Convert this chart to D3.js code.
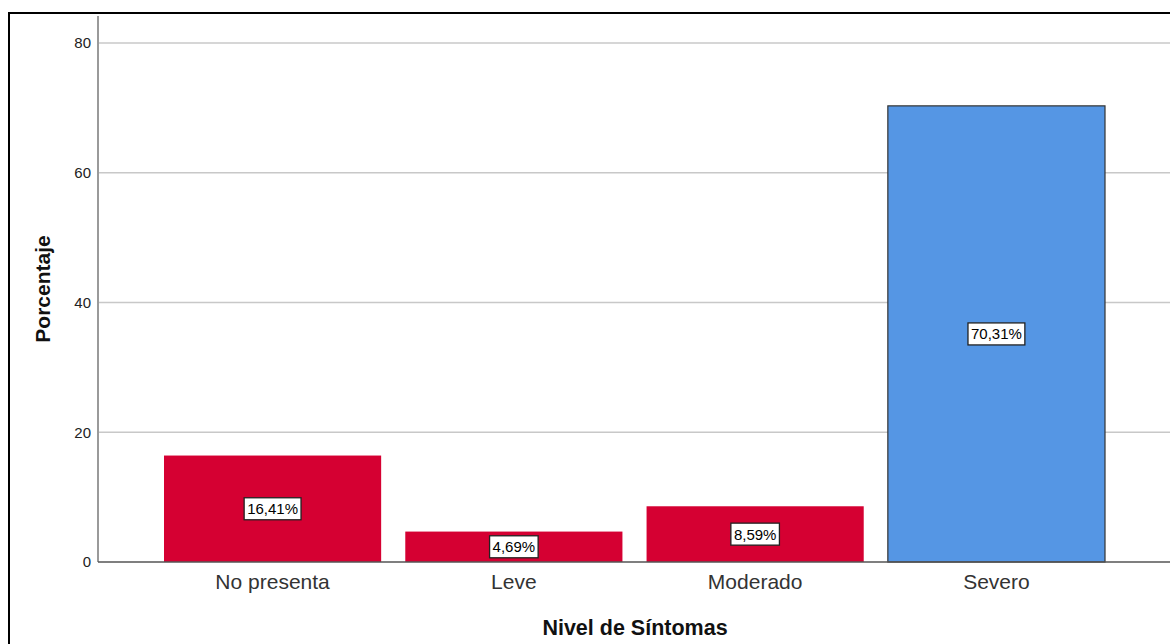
<!DOCTYPE html>
<html>
<head>
<meta charset="utf-8">
<script src="https://cdn.jsdelivr.net/npm/d3@7"></script>
<style>
  html, body { margin: 0; padding: 0; background: #fff; }
  svg { display: block; }
</style>
</head>
<body>
<svg id="chart" width="1170" height="644"></svg>
<script>
const categories = ["No presenta", "Leve", "Moderado", "Severo"];
const values = [16.41, 4.69, 8.59, 70.31];
const valueLabels = ["16,41%", "4,69%", "8,59%", "70,31%"];
const barColors = ["#d50032", "#d50032", "#d50032", "#5596e4"];
const yTicks = [0, 20, 40, 60, 80];
const xTitle = "Nivel de Síntomas";
const yTitle = "Porcentaje";

const svg = d3.select("#chart");
const font = "'Liberation Sans', Arial, sans-serif";

// outer frame
svg.append("rect")
  .attr("x", 9).attr("y", 13)
  .attr("width", 1200).attr("height", 700)
  .attr("fill", "none").attr("stroke", "#000").attr("stroke-width", 2);

const y = d3.scaleLinear().domain([0, 80]).range([562, 43]);
const x = d3.scaleBand().domain(categories).range([164, 1105])
  .paddingInner(0.1).paddingOuter(0);

const plotLeft = 98, plotRight = 1170;

// gridlines
svg.append("g").selectAll("line").data(yTicks.filter(d => d > 0)).join("line")
  .attr("x1", plotLeft).attr("x2", plotRight)
  .attr("y1", d => y(d)).attr("y2", d => y(d))
  .attr("stroke", "#c8c8c8").attr("stroke-width", 1.5);

// y axis
const yAxis = svg.append("g")
  .attr("transform", `translate(${plotLeft},0)`)
  .call(d3.axisLeft(y).tickValues(yTicks).tickSize(0).tickPadding(7));
yAxis.select(".domain").remove();
yAxis.selectAll("text")
  .attr("font-family", font).attr("font-size", 15).attr("fill", "#222");
svg.append("line")
  .attr("x1", plotLeft).attr("x2", plotLeft)
  .attr("y1", 16).attr("y2", 562)
  .attr("stroke", "#9a9a9a").attr("stroke-width", 2);

// bars
svg.append("g").selectAll("rect").data(categories).join("rect")
  .attr("x", d => x(d))
  .attr("y", (d, i) => y(values[i]))
  .attr("width", x.bandwidth())
  .attr("height", (d, i) => y(0) - y(values[i]))
  .attr("fill", (d, i) => barColors[i])
  .attr("stroke", (d, i) => i === 3 ? "#333" : "none")
  .attr("stroke-width", 1.2);

// x baseline
svg.append("line")
  .attr("x1", plotLeft).attr("x2", plotRight)
  .attr("y1", y(0)).attr("y2", y(0))
  .attr("stroke", "#555").attr("stroke-width", 1.5);

// x axis labels
const xAxis = svg.append("g")
  .attr("transform", `translate(0,${y(0)})`)
  .call(d3.axisBottom(x).tickSize(0).tickPadding(12));
xAxis.select(".domain").remove();
xAxis.selectAll("text")
  .attr("font-family", font).attr("font-size", 21).attr("fill", "#333");

// value labels
const lbl = svg.append("g").selectAll("g").data(categories).join("g")
  .attr("transform", (d, i) => `translate(${x(d) + x.bandwidth() / 2},${(y(values[i]) + y(0)) / 2})`);
lbl.append("text")
  .attr("text-anchor", "middle").attr("dy", "0.36em")
  .attr("font-family", font).attr("font-size", 15).attr("fill", "#000")
  .text((d, i) => valueLabels[i])
  .each(function () {
    const b = this.getBBox();
    d3.select(this.parentNode).insert("rect", "text")
      .attr("x", b.x - 3).attr("y", -11)
      .attr("width", b.width + 6).attr("height", 22)
      .attr("fill", "#fff").attr("stroke", "#222").attr("stroke-width", 1.3);
  });

// axis titles
svg.append("text")
  .attr("x", 635).attr("y", 635)
  .attr("text-anchor", "middle")
  .attr("font-family", font).attr("font-size", 21.5).attr("font-weight", "bold")
  .attr("fill", "#111")
  .text(xTitle);
svg.append("text")
  .attr("transform", "translate(50,289) rotate(-90)")
  .attr("text-anchor", "middle")
  .attr("font-family", font).attr("font-size", 21).attr("font-weight", "bold")
  .attr("fill", "#111")
  .text(yTitle);
</script>
</body>
</html>
